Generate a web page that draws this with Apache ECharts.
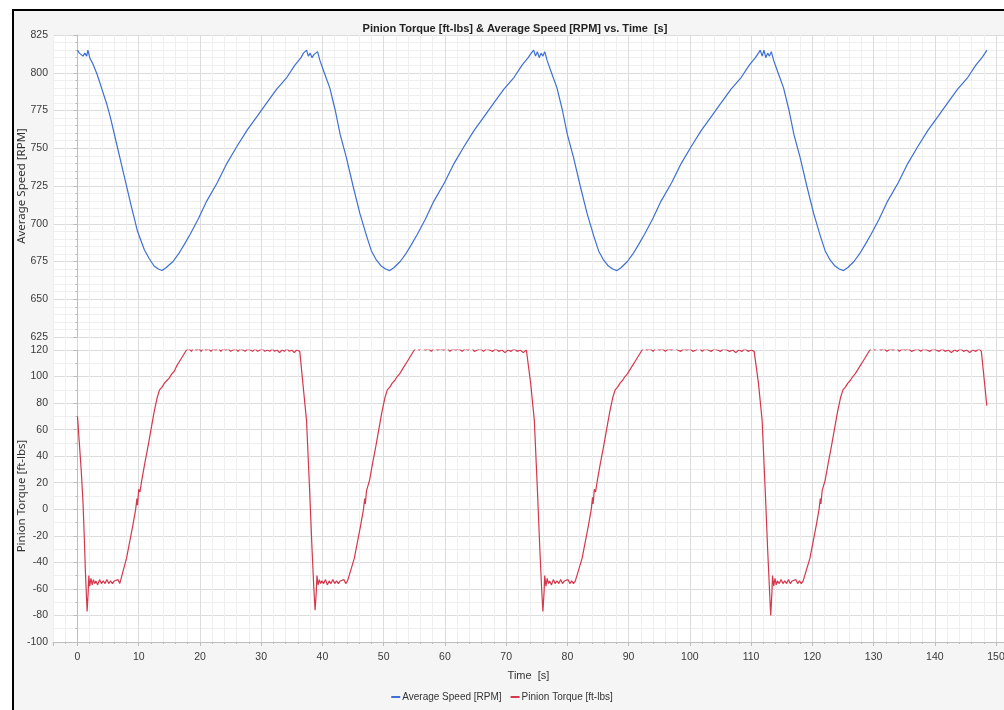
<!DOCTYPE html>
<html>
<head>
<meta charset="utf-8">
<script src="https://cdn.jsdelivr.net/npm/echarts@6/dist/echarts.min.js"></script>
<style>
  html, body { margin: 0; padding: 0; background: #ffffff; }
  #frame { position: absolute; left: 12px; top: 9px; width: 1000px; height: 710px;
           border-left: 2px solid #000; border-top: 2px solid #000; background: #f5f5f5; }
  #chart { position: absolute; left: 0; top: 0; width: 1004px; height: 710px; }
</style>
</head>
<body>
<div id="frame"></div>
<div id="chart"></div>
<script>
// ---- Data ----
const titleText = 'Pinion Torque [ft-lbs] & Average Speed [RPM] vs. Time  [s]';
const speedName = 'Average Speed [RPM]';
const torqueName = 'Pinion Torque [ft-lbs]';
const xAxisName = 'Time  [s]';

const speedCycle1 = [[0,815],[0.3,813],[0.6,814],[0.9,811],[1.2,813],[1.5,811],[1.7,815],[2.0,810],[2.5,806],[3.2,799],[4.0,789],[4.8,779],[5.4,770],[6.5,751],[7.6,732],[8.7,713],[9.8,695],[10.9,683],[11.7,677],[12.5,672],[13.2,670],[13.8,669],[14.5,671],[15.6,675],[16.5,680],[17.4,686],[18.4,693],[19.7,703],[21.1,715],[22.8,727],[24.4,740],[26.0,751],[27.7,762],[29.3,771],[30.9,780],[32.5,789],[34.2,797],[35.5,805],[36.5,810],[36.9,813],[37.4,815],[37.7,811],[38.0,813],[38.3,810],[38.6,812],[38.9,811],[39.2,814]];
const speedCycle2 = [[39.6,808],[40.3,800],[41.2,790],[42.1,775],[42.9,759],[43.9,744],[45.0,725],[46.1,707],[47.2,692],[48.0,682],[48.8,676],[49.6,672],[50.3,670],[51.0,669],[51.7,671],[52.7,675],[53.6,680],[54.5,686],[55.5,693],[56.8,703],[58.2,715],[59.9,727],[61.5,740],[63.1,751],[64.8,762],[66.4,771],[68.0,780],[69.6,789],[71.3,797],[72.6,805],[73.6,810],[74.1,813],[74.5,815],[74.8,811],[75.1,814],[75.4,810],[75.7,813],[76.0,811],[76.3,814]];
const speedCycle3 = [[76.7,808],[77.4,800],[78.3,790],[79.2,775],[80.0,759],[81.0,744],[82.1,725],[83.2,707],[84.3,692],[85.1,682],[85.9,676],[86.7,672],[87.4,670],[88.1,669],[88.8,671],[89.8,675],[90.7,680],[91.6,686],[92.6,693],[93.9,703],[95.3,715],[97.0,727],[98.6,740],[100.2,751],[101.9,762],[103.5,771],[105.1,780],[106.7,789],[108.4,797],[109.7,805],[110.7,810],[111.2,813],[111.5,815],[111.8,811],[112.1,815],[112.4,810],[112.7,813],[113.0,811],[113.3,814]];
const speedCycle4 = [[113.7,808],[114.4,800],[115.3,790],[116.2,775],[117.0,759],[118.0,744],[119.1,725],[120.2,707],[121.3,692],[122.1,682],[122.9,676],[123.7,672],[124.4,670],[125.1,669],[125.8,671],[126.8,675],[127.7,680],[128.6,686],[129.6,693],[130.9,703],[132.3,715],[134.0,727],[135.6,740],[137.2,751],[138.9,762],[140.5,771],[142.1,780],[143.7,789],[145.4,797],[146.7,805],[147.7,810],[148.2,813],[148.5,815]];

const torqueCycle1 = [[0,70],[0.3,50],[0.6,30],[0.9,5],[1.1,-20],[1.3,-48],[1.57,-77],[1.75,-62],[1.85,-50],[2.0,-58],[2.2,-52],[2.4,-57],[2.6,-53],[2.8,-56],[3.0,-54],[3.3,-57],[3.6,-53],[3.9,-56],[4.2,-54],[4.5,-56],[4.8,-53],[5.1,-56],[5.4,-54],[5.7,-56],[6.0,-54],[6.3,-55],[6.6,-53],[6.9,-56],[7.2,-55],[8.0,-37],[9.0,-13],[9.5,0],[9.7,8],[9.8,3],[10.0,15],[10.2,13],[10.5,22],[11.0,35],[11.5,47],[12.0,60],[12.5,73],[13.0,84],[13.4,90],[13.8,92],[14.2,95],[14.6,97],[15.0,99],[15.4,102],[15.8,104],[16.2,108],[16.6,111],[17.0,114],[17.4,117],[17.8,120],[18.2,121],[18.6,119],[19.0,122],[19.4,120],[19.8,121],[20.2,119],[20.6,122],[21.0,120],[21.4,121],[21.8,119],[22.2,121],[22.6,120],[23.0,122],[23.4,119],[23.8,121],[24.2,120],[24.6,121],[25.0,119],[25.4,120],[25.8,121],[26.2,119],[26.6,121],[27.0,120],[27.4,119],[27.8,121],[28.2,120],[28.6,119],[29.0,121],[29.4,119],[29.8,120],[30.2,121],[30.6,119],[31.0,120],[31.4,119],[31.8,121],[32.2,119],[32.6,120],[33.0,118],[33.4,120],[33.8,119],[34.2,121],[34.6,119],[35.0,120],[35.4,118],[35.8,120],[36.3,119]];
const torqueCycle2 = [[36.8,95],[37.4,67],[37.9,15],[38.3,-30],[38.6,-60],[38.8,-76],[39.0,-62],[39.1,-50],[39.3,-57],[39.5,-53],[39.7,-56],[39.9,-54],[40.2,-56],[40.5,-53],[40.8,-57],[41.1,-54],[41.4,-56],[41.7,-53],[42.0,-56],[42.3,-54],[42.6,-56],[42.9,-54],[43.2,-55],[43.5,-53],[43.8,-56],[44.1,-54],[44.4,-55],[45.2,-37],[46.2,-13],[46.7,0],[46.9,8],[47.0,4],[47.2,14],[47.4,13],[47.7,22],[48.2,35],[48.7,47],[49.2,60],[49.7,73],[50.2,84],[50.6,90],[51.0,92],[51.4,95],[51.8,97],[52.2,100],[52.6,102],[53.0,105],[53.4,108],[53.8,111],[54.2,114],[54.6,117],[55.0,120],[55.4,122],[55.8,120],[56.3,122],[56.8,120],[57.3,121],[57.8,119],[58.3,122],[58.8,120],[59.3,121],[59.8,120],[60.3,122],[60.8,119],[61.3,121],[61.8,120],[62.3,121],[62.8,119],[63.3,121],[63.8,120],[64.3,122],[64.8,119],[65.3,120],[65.8,121],[66.3,119],[66.8,121],[67.3,120],[67.8,119],[68.3,121],[68.8,119],[69.3,120],[69.8,118],[70.3,120],[70.8,119],[71.3,121],[71.8,119],[72.3,120],[72.8,118],[73.3,120],[73.5,119]];
const torqueCycle3 = [[74.0,95],[74.6,67],[75.1,15],[75.5,-30],[75.8,-60],[76.0,-77],[76.2,-62],[76.3,-50],[76.5,-58],[76.7,-52],[76.9,-56],[77.1,-54],[77.4,-57],[77.7,-53],[78.0,-56],[78.3,-54],[78.6,-56],[78.9,-53],[79.2,-56],[79.5,-54],[79.8,-55],[80.1,-53],[80.4,-56],[80.7,-54],[81.0,-56],[81.3,-54],[81.6,-55],[82.4,-37],[83.4,-13],[83.9,0],[84.1,9],[84.2,4],[84.4,15],[84.6,13],[84.9,22],[85.4,35],[85.9,47],[86.4,60],[86.9,73],[87.4,84],[87.8,90],[88.2,92],[88.6,95],[89.0,97],[89.4,100],[89.8,102],[90.2,105],[90.6,108],[91.0,111],[91.4,114],[91.8,117],[92.2,120],[92.6,122],[93.0,120],[93.5,121],[94.0,119],[94.5,122],[95.0,120],[95.5,121],[96.0,119],[96.5,121],[97.0,120],[97.5,122],[98.0,120],[98.5,119],[99.0,121],[99.5,120],[100.0,121],[100.5,119],[101.0,120],[101.5,122],[102.0,119],[102.5,121],[103.0,120],[103.5,119],[104.0,121],[104.5,120],[105.0,119],[105.5,121],[106.0,120],[106.5,119],[107.0,120],[107.5,118],[108.0,120],[108.5,119],[109.0,121],[109.5,119],[110.0,120],[110.5,119],[110.7,119]];
const torqueCycle4 = [[111.2,95],[111.8,67],[112.3,15],[112.7,-30],[113.0,-60],[113.2,-80],[113.4,-63],[113.5,-50],[113.7,-58],[113.9,-52],[114.1,-57],[114.3,-54],[114.6,-56],[114.9,-53],[115.2,-56],[115.5,-54],[115.8,-56],[116.1,-53],[116.4,-56],[116.7,-54],[117.0,-55],[117.3,-53],[117.6,-56],[117.9,-54],[118.2,-56],[118.5,-54],[118.8,-55],[119.6,-37],[120.6,-13],[121.1,0],[121.3,8],[121.4,4],[121.6,14],[121.8,13],[122.1,22],[122.6,35],[123.1,47],[123.6,60],[124.1,73],[124.6,84],[125.0,90],[125.4,92],[125.8,95],[126.2,97],[126.6,100],[127.0,102],[127.4,105],[127.8,108],[128.2,111],[128.6,114],[129.0,117],[129.4,120],[129.8,122],[130.2,120],[130.7,122],[131.2,120],[131.7,121],[132.2,119],[132.7,121],[133.2,120],[133.7,122],[134.2,119],[134.7,121],[135.2,120],[135.7,121],[136.2,119],[136.7,120],[137.2,121],[137.7,119],[138.2,121],[138.7,120],[139.2,119],[139.7,121],[140.2,120],[140.7,119],[141.2,121],[141.7,119],[142.2,120],[142.7,118],[143.2,120],[143.7,119],[144.2,121],[144.7,119],[145.2,120],[145.7,118],[146.2,120],[146.7,119],[147.2,121],[147.6,119],[148.5,78]];

const speedAxis = { min: 625, max: 825, step: 25 };
const torqueAxis = { min: -100, max: 120, step: 20 };
const timeAxis = { min: -4, max: 151.3, step: 10, minorStep: 2 };

const speedData = speedCycle1.concat(speedCycle2, speedCycle3, speedCycle4);
const torqueData = torqueCycle1.concat(torqueCycle2, torqueCycle3, torqueCycle4);

// ---- Chart ----
const sans = "'Liberation Sans', Arial, sans-serif";
const labelColor = '#3a3a3a';
const majorLine = '#dcdcdc';
const minorLine = '#efefef';
const axisLineColor = '#bdbdbd';

const gridLeft = 53, gridRight = 0, plotTop = 35, plotBottom = 642;
const chart = echarts.init(document.getElementById('chart'), null, { renderer: 'canvas' });

const hiddenX = (gi) => ({ type: 'value', gridIndex: gi, min: timeAxis.min, max: timeAxis.max, show: false });
const isMajorTime = (v) => Math.abs(v / timeAxis.step - Math.round(v / timeAxis.step)) < 1e-6;
// split-line colours cycle per 2-unit tick starting at -4: majors fall on every 5th line (index 2, 7, ...)
const timeLineColors = [minorLine, minorLine, majorLine, minorLine, minorLine];

chart.setOption({
  backgroundColor: 'transparent',
  animation: false,
  title: {
    text: titleText, left: 510, top: 18, textAlign: 'center',
    textStyle: { fontFamily: sans, fontSize: 11, fontWeight: 'bold', color: '#222' }
  },
  legend: {
    bottom: 3, left: 'center', icon: 'rect', itemWidth: 9, itemHeight: 2, itemGap: 9,
    textStyle: { fontFamily: sans, fontSize: 10, color: '#333', padding: [0, 0, 0, -3] },
    data: [speedName, torqueName]
  },
  grid: [
    { left: gridLeft, right: gridRight, top: plotTop, bottom: 710 - plotBottom, show: true, backgroundColor: '#ffffff', borderWidth: 0, outerBoundsMode: 'none', containLabel: false },
    { left: gridLeft, right: gridRight, top: plotTop, bottom: 710 - plotBottom, show: false, outerBoundsMode: 'none', containLabel: false },
    { left: gridLeft, right: gridRight, top: plotTop, height: 302, outerBoundsMode: 'none', containLabel: false },
    { left: gridLeft, right: gridRight, top: 350, height: 292, outerBoundsMode: 'none', containLabel: false }
  ],
  xAxis: [
    { // time axis: labels, split lines every 2 s (majors every 10 s), minor ticks
      type: 'value', gridIndex: 0, min: timeAxis.min, max: timeAxis.max, interval: timeAxis.minorStep,
      name: xAxisName, nameLocation: 'middle', nameGap: 28, nameMoveOverlap: false,
      nameTextStyle: { fontFamily: sans, fontSize: 11, color: '#333' },
      axisLine: { show: true, lineStyle: { color: axisLineColor } },
      axisTick: { show: true, length: 2, lineStyle: { color: axisLineColor } },
      axisLabel: { fontFamily: sans, fontSize: 10.5, color: labelColor, margin: 10,
                   formatter: (v) => (isMajorTime(v) && v >= 0 && v <= 150) ? String(Math.round(v)) : '' },
      splitLine: { show: true, lineStyle: { color: timeLineColors, width: 1 } }
    },
    { // major ticks every 10 s
      type: 'value', gridIndex: 1, min: timeAxis.min, max: timeAxis.max,
      minInterval: timeAxis.step, maxInterval: timeAxis.step,
      axisLine: { show: false },
      axisTick: { show: true, length: 4, lineStyle: { color: axisLineColor } },
      axisLabel: { show: false },
      splitLine: { show: false }
    },
    hiddenX(2),
    hiddenX(3)
  ],
  yAxis: [
    { type: 'value', gridIndex: 0, min: 0, max: 1, show: false },
    { type: 'value', gridIndex: 1, min: 0, max: 1, show: false },
    {
      type: 'value', gridIndex: 2, min: speedAxis.min, max: speedAxis.max, interval: speedAxis.step,
      name: speedName, nameLocation: 'middle', nameRotate: 90, nameGap: 25, nameMoveOverlap: false,
      nameTextStyle: { fontFamily: "'Noto Sans', sans-serif", fontSize: 11.5, color: '#333' },
      axisLine: { show: true, lineStyle: { color: axisLineColor } },
      axisTick: { show: true, length: 4, lineStyle: { color: axisLineColor } },
      minorTick: { show: true, splitNumber: 5, length: 2, lineStyle: { color: axisLineColor } },
      axisLabel: { fontFamily: sans, fontSize: 10.5, color: labelColor, margin: 5 },
      splitLine: { show: true, lineStyle: { color: majorLine } },
      minorSplitLine: { show: true, lineStyle: { color: minorLine } }
    },
    {
      type: 'value', gridIndex: 3, min: torqueAxis.min, max: torqueAxis.max, interval: torqueAxis.step,
      name: torqueName, nameLocation: 'middle', nameRotate: 90, nameGap: 25, nameMoveOverlap: false,
      nameTextStyle: { fontFamily: "'Noto Sans', sans-serif", fontSize: 11.5, color: '#333' },
      axisLine: { show: true, lineStyle: { color: axisLineColor } },
      axisTick: { show: true, length: 4, lineStyle: { color: axisLineColor } },
      minorTick: { show: true, splitNumber: 2, length: 2, lineStyle: { color: axisLineColor } },
      axisLabel: { fontFamily: sans, fontSize: 10.5, color: labelColor, margin: 5 },
      splitLine: { show: true, lineStyle: { color: majorLine } },
      minorSplitLine: { show: true, lineStyle: { color: minorLine } }
    }
  ],
  series: [
    {
      name: speedName, type: 'line', xAxisIndex: 2, yAxisIndex: 2, data: speedData,
      showSymbol: false, symbol: 'none', lineStyle: { color: '#3d6fd4', width: 1.2 }, itemStyle: { color: '#3d6fd4' }
    },
    {
      name: torqueName, type: 'line', xAxisIndex: 3, yAxisIndex: 3, data: torqueData,
      showSymbol: false, symbol: 'none', lineStyle: { color: '#d4384d', width: 1.2 }, itemStyle: { color: '#d4384d' }
    }
  ]
});
</script>
</body>
</html>
